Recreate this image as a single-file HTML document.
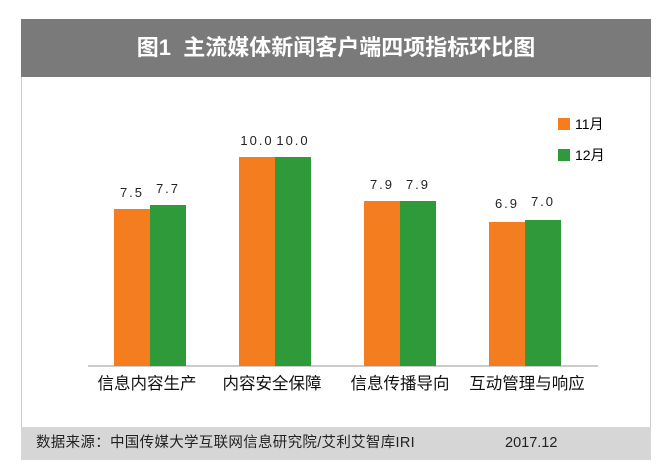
<!DOCTYPE html><html><head><meta charset="utf-8"><style>
body{margin:0;width:668px;height:472px;background:#fff;position:relative;overflow:hidden;font-family:"Liberation Sans","Noto Sans CJK SC",sans-serif}
.a{position:absolute}
.b{position:absolute;bottom:106px;width:36px}
.o{background:#f47d20}.g{background:#2f9a3a}
.v{position:absolute;font-size:13px;color:#222;width:40px;text-align:center;letter-spacing:2px;line-height:16px}
.l{position:absolute;top:373px;font-size:16.5px;color:#111;width:130px;text-align:center;line-height:22px}
</style></head><body>
<div class="a" style="left:21px;top:19px;width:630px;height:441px;border:1px solid #ccc;box-sizing:border-box"></div>
<div class="a" style="left:21px;top:19px;width:630px;height:58px;background:#7a7a7a;color:#fff;font-size:22px;font-weight:bold;text-align:center;line-height:58px">图1&nbsp; 主流媒体新闻客户端四项指标环比图</div>
<div class="a" style="left:88px;top:365px;width:510px;height:2px;background:#ccc"></div>
<div class="b o" style="left:114px;height:157px"></div><div class="b g" style="left:150px;height:161px"></div>
<div class="b o" style="left:239px;height:209px"></div><div class="b g" style="left:275px;height:209px"></div>
<div class="b o" style="left:364px;height:165px"></div><div class="b g" style="left:400px;height:165px"></div>
<div class="b o" style="left:489px;height:144px"></div><div class="b g" style="left:525px;height:146px"></div>
<div class="v" style="left:112px;top:185px">7.5</div><div class="v" style="left:148px;top:181px">7.7</div>
<div class="v" style="left:237px;top:133px">10.0</div><div class="v" style="left:273px;top:133px">10.0</div>
<div class="v" style="left:362px;top:177px">7.9</div><div class="v" style="left:398px;top:177px">7.9</div>
<div class="v" style="left:487px;top:196px">6.9</div><div class="v" style="left:523px;top:194px">7.0</div>
<div class="l" style="left:82px">信息内容生产</div><div class="l" style="left:207px">内容安全保障</div>
<div class="l" style="left:335px">信息传播导向</div><div class="l" style="left:462px">互动管理与响应</div>
<div class="a o" style="left:558px;top:118px;width:12px;height:12px"></div><div class="a" style="left:575px;top:115px;font-size:14px;line-height:18px">11月</div>
<div class="a g" style="left:558px;top:149px;width:12px;height:12px"></div><div class="a" style="left:575px;top:146px;font-size:14px;line-height:18px">12月</div>
<div class="a" style="left:21px;top:427px;width:630px;height:33px;background:#d6d6d6"></div>
<div class="a" style="left:36px;top:433px;font-size:14.5px;line-height:20px;color:#222;letter-spacing:0.3px">数据来源：中国传媒大学互联网信息研究院/艾利艾智库IRI</div>
<div class="a" style="left:505px;top:433px;font-size:14.5px;line-height:20px;color:#222">2017.12</div>
</body></html>
